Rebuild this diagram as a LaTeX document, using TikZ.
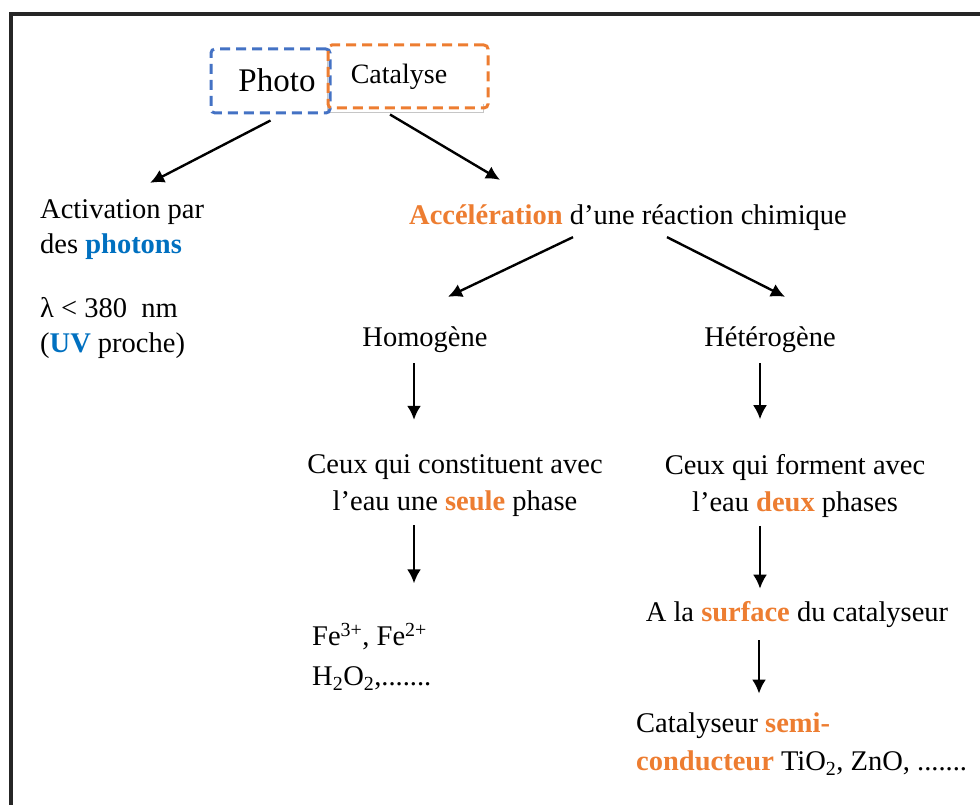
\documentclass[tikz,border=0pt]{standalone}
\usepackage{fontspec}
\setmainfont{Liberation Serif}
\usetikzlibrary{arrows.meta}
\definecolor{accorange}{RGB}{237,125,49}
\definecolor{accblue}{RGB}{0,112,192}
\definecolor{boxblue}{RGB}{68,114,196}
\newcommand{\hot}[1]{\textbf{\color{accorange}#1}}
\newcommand{\cool}[1]{\textbf{\color{accblue}#1}}

\begin{document}
\begin{tikzpicture}[x=1pt,y=-1pt,
	txt/.style={inner sep=0pt, font=\fontsize{28.5}{36}\selectfont},
	arr/.style={-{Latex[length=14pt,width=14pt]}, line width=2.4pt},
	dashbox/.style={line width=3pt, dash pattern=on 10pt off 6pt, rounded corners=4pt, inner sep=0pt}]
		\useasboundingbox (0,0) rectangle (980,805);
		% cadre
		\draw[line width=3.2pt, black!85] (11,805) -- (11,14) -- (980,14);
		
		\draw[gray!45, line width=0.8pt] (483,104) -- (483,112) -- (327,112) -- (327,48);
		\node[dashbox, draw=boxblue, minimum width=119pt, minimum height=64pt] (photo) at (270.5,81) {};
		\node[dashbox, draw=accorange, minimum width=160pt, minimum height=63pt] (cata) at (408,76.5) {};
		\node[inner sep=0pt, font=\fontsize{33}{40}\selectfont] (phototxt) at (277,80) {Photo};
		\node[inner sep=0pt, font=\fontsize{28}{34}\selectfont] (catatxt) at (399,77) {Catalyse};
		
		\node[txt, anchor=west, align=left, font=\fontsize{28.5}{35}\selectfont] (activ) at (40,230) {Activation par\\des \cool{photons}};
		\node[txt, anchor=west, align=left, font=\fontsize{28.5}{35}\selectfont] (lambda) at (40,328) {λ < 380\ \ nm\\(\cool{UV} proche)};
		
		\node[txt] (accel) at (628,218) {\hot{Accélération} d’une réaction chimique};
		\node[txt] (homo) at (425,340) {Homogène};
		\node[txt] (hetero) at (770,340) {Hétérogène};
		
		\node[txt, align=center, font=\fontsize{28.5}{37}\selectfont] (seule) at (455,486) {Ceux qui constituent avec\\l’eau une \hot{seule} phase};
		\node[txt, align=center, font=\fontsize{28.5}{37}\selectfont] (deux) at (795,486) {Ceux qui forment avec\\l’eau \hot{deux} phases};
		
		\node[txt, anchor=west, align=left, font=\fontsize{28.5}{40}\selectfont] (fer) at (312,657) {Fe\textsuperscript{3+}, Fe\textsuperscript{2+}\\H\textsubscript{2}O\textsubscript{2},.......};
		\node[txt] (surf) at (797,615) {A la \hot{surface} du catalyseur};
		\node[txt, anchor=west, align=left, font=\fontsize{28.5}{38}\selectfont] (semi) at (636,744) {Catalyseur \hot{semi-}\\\hot{conducteur} TiO\textsubscript{2}, ZnO, .......};
		
		\draw[arr] ([shift={(0,6)}]photo.south) -- ([shift={(28,-17)}]activ.north);
		\draw[arr] ([shift={(-18,5)}]cata.south) -- ([shift={(-128,-25)}]accel.north);
		\draw[arr] ([shift={(-55,6)}]accel.south) -- ([shift={(23,-30)}]homo.north);
		\draw[arr] ([shift={(39,6)}]accel.south) -- ([shift={(15,-30)}]hetero.north);
		
		\draw[arr, shorten >=35pt] ([shift={(-11,10)}]homo.south) coordinate (h1) -- (h1 |- seule.north);
		\draw[arr, shorten >=35pt] ([shift={(-10,10)}]hetero.south) coordinate (h2) -- (h2 |- deux.north);
		\draw[arr, shorten >=40pt] ([shift={(-41,8)}]seule.south) coordinate (h3) -- (h3 |- fer.north);
		\draw[arr, shorten >=13pt] ([shift={(-35,8)}]deux.south) coordinate (h4) -- (h4 |- surf.north);
		\draw[arr, shorten >=19pt] ([shift={(-38,12)}]surf.south) coordinate (h5) -- (h5 |- semi.north);
\end{tikzpicture}
\end{document}
